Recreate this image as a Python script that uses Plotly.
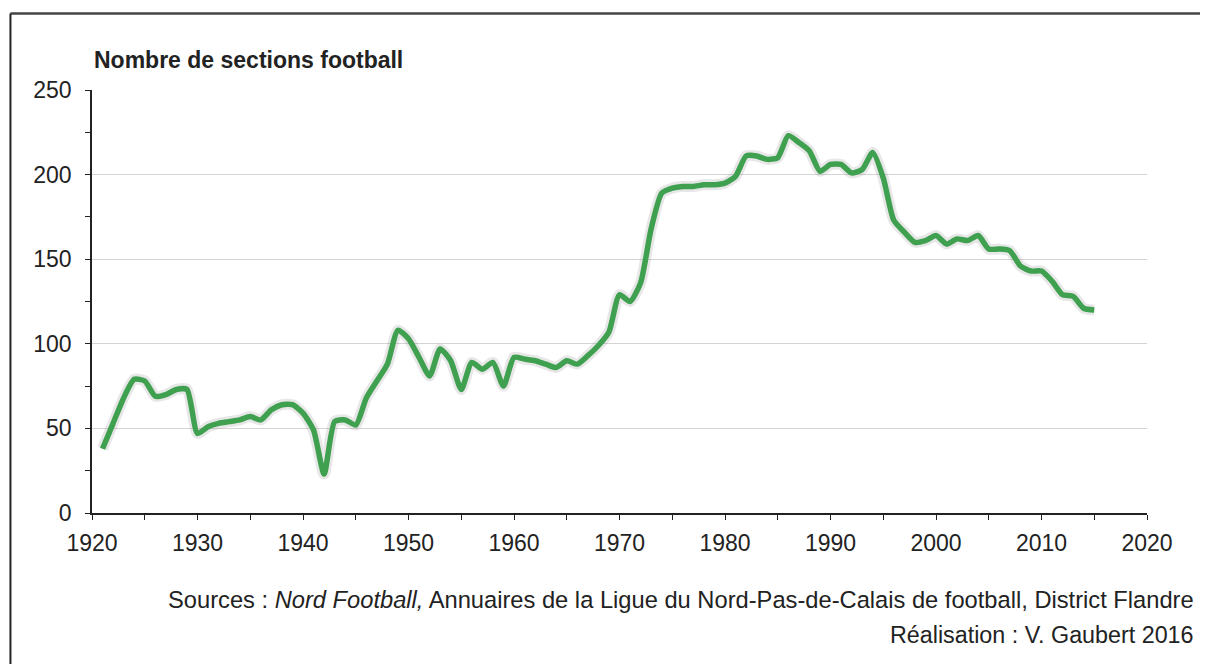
import plotly.graph_objects as go

years = list(range(1921, 2016))
sections = [38, 53, 68, 79, 78, 69, 70, 73, 73, 47,
            51, 53, 54, 55, 57, 55, 61, 64, 64, 59,
            49, 23, 54, 55, 52, 68, 78, 88, 108, 103,
            92, 81, 97, 90, 73, 89, 85, 89, 75, 92,
            91, 90, 88, 86, 90, 88, 93, 99, 107, 129,
            125, 136, 168, 189, 192, 193, 193, 194, 194, 195,
            199, 211, 211, 209, 210, 223, 219, 214, 202, 206,
            206, 201, 203, 213, 198, 173, 166, 160, 161, 164,
            159, 162, 161, 164, 156, 156, 155, 146, 143, 143,
            137, 129, 128, 121, 120]

x_ticks = [1920, 1930, 1940, 1950, 1960, 1970, 1980, 1990, 2000, 2010, 2020]
y_ticks = [0, 50, 100, 150, 200, 250]

title_text = "Nombre de sections football"
source_text = "Sources : <i>Nord Football,</i> Annuaires de la Ligue du Nord-Pas-de-Calais de football, District Flandre"
credit_text = "Réalisation : V. Gaubert 2016"

font_family = "Liberation Sans, Arial, sans-serif"
FS = 23

fig = go.Figure()
# soft shadow under the line
fig.add_trace(go.Scatter(
    x=years, y=sections, mode="lines",
    line=dict(color="rgba(120,120,120,0.18)", width=11, shape="spline", smoothing=0.6),
    hoverinfo="skip", showlegend=False))
fig.add_trace(go.Scatter(
    x=years, y=sections, mode="lines",
    line=dict(color="#3fa04f", width=5.5, shape="spline", smoothing=0.6),
    showlegend=False))

fig.update_layout(
    width=1200, height=656,
    paper_bgcolor="white", plot_bgcolor="white",
    margin=dict(l=84, r=61, t=82, b=151),
    font=dict(family=font_family, size=FS, color="#222222"),
    xaxis=dict(
        range=[1920, 2020], tickvals=x_ticks, showgrid=False, zeroline=False,
        showline=True, linecolor="#222222", linewidth=1.5,
        ticks="outside", ticklen=5, tickcolor="#222222", tickwidth=1,
        ticklabelstandoff=4,
        minor=dict(dtick=5, ticks="outside", ticklen=5, tickcolor="#222222", showgrid=False),
        tickfont=dict(size=FS, color="#222222"),
    ),
    yaxis=dict(
        range=[0, 250], tickvals=y_ticks, showgrid=True, gridcolor="#d4d4d4", gridwidth=1,
        zeroline=False, showline=True, linecolor="#222222", linewidth=1.5,
        ticks="outside", ticklen=5, tickcolor="#222222", tickwidth=1,
        ticklabelstandoff=9,
        minor=dict(dtick=25, ticks="outside", ticklen=5, tickcolor="#222222", showgrid=False),
        tickfont=dict(size=FS, color="#222222"),
    ),
    shapes=[
        dict(type="line", xref="paper", yref="paper", x0=-0.0773, x1=1.06, y0=1.181, y1=1.181,
             line=dict(color="#444444", width=2.5)),
        dict(type="line", xref="paper", yref="paper", x0=-0.0773, x1=-0.0773, y0=1.181, y1=-0.36,
             line=dict(color="#222222", width=2)),
    ],
    annotations=[
        dict(text="<b>" + title_text + "</b>", xref="paper", yref="paper", x=0, y=1.071,
             xanchor="left", yanchor="middle", showarrow=False,
             font=dict(size=FS, color="#222222", family=font_family)),
        dict(text=source_text, xref="paper", yref="paper", x=1.0465, y=-0.2045,
             xanchor="right", yanchor="middle", showarrow=False,
             font=dict(size=23.7, color="#222222", family=font_family)),
        dict(text=credit_text, xref="paper", yref="paper", x=1.0465, y=-0.2884,
             xanchor="right", yanchor="middle", showarrow=False,
             font=dict(size=23.3, color="#222222", family=font_family)),
    ],
)

fig.write_html("out.html")
